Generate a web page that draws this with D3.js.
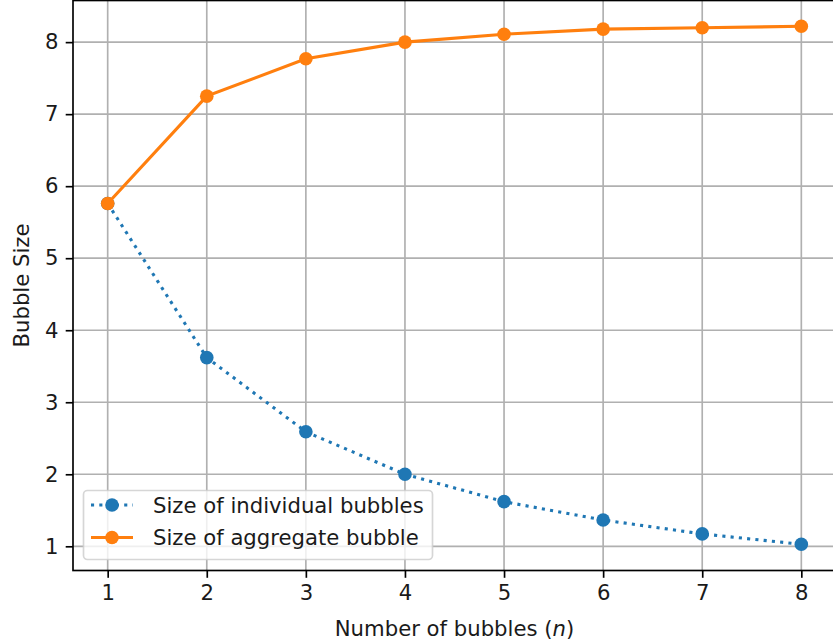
<!DOCTYPE html>
<html>
<head>
<meta charset="utf-8">
<script src="https://d3js.org/d3.v7.min.js"></script>
<style>
  body { margin: 0; background: #fff; }
  text { font-family: "DejaVu Sans", sans-serif; }
</style>
</head>
<body>
<div id="chart"></div>
<script>
// data
var bubbles = [1, 2, 3, 4, 5, 6, 7, 8];
var individualSize = [5.76, 3.62, 2.59, 2.00, 1.62, 1.365, 1.172, 1.028];
var aggregateSize = [5.76, 7.25, 7.77, 8.00, 8.11, 8.18, 8.20, 8.22];
var xTicks = [1, 2, 3, 4, 5, 6, 7, 8];
var yTicks = [1, 2, 3, 4, 5, 6, 7, 8];
var seriesNames = ["Size of individual bubbles", "Size of aggregate bubble"];

// set the dimensions of the graph
var W = 833, H = 644;
var plot = {left: 73, right: 836, top: 0.5, bottom: 570.5};
var fontSize = 21.2;
var markerR = 6.8;

var svg = d3.select("#chart")
  .append("svg")
    .attr("width", W)
    .attr("height", H);

var x = d3.scaleLinear()
    .domain([0.65, 8.35])
    .range([plot.left, plot.right]);

var y = d3.scaleLinear()
    .domain([0.664, 8.578])
    .range([plot.bottom, plot.top]);

// grid lines
svg.append("g")
  .selectAll("line")
  .data(xTicks)
  .enter().append("line")
    .attr("x1", function(d) { return x(d); })
    .attr("x2", function(d) { return x(d); })
    .attr("y1", plot.top)
    .attr("y2", plot.bottom)
    .attr("stroke", "#b0b0b0")
    .attr("stroke-width", 1.67);

svg.append("g")
  .selectAll("line")
  .data(yTicks)
  .enter().append("line")
    .attr("x1", plot.left)
    .attr("x2", plot.right)
    .attr("y1", function(d) { return y(d); })
    .attr("y2", function(d) { return y(d); })
    .attr("stroke", "#b0b0b0")
    .attr("stroke-width", 1.67);

// axes
var xAxis = svg.append("g")
    .attr("transform", "translate(0," + plot.bottom + ")")
    .call(d3.axisBottom(x).tickValues(xTicks).tickFormat(d3.format("d"))
      .tickSizeInner(7.3).tickSizeOuter(0).tickPadding(7.3));

var yAxis = svg.append("g")
    .attr("transform", "translate(" + plot.left + ",0)")
    .call(d3.axisLeft(y).tickValues(yTicks).tickFormat(d3.format("d"))
      .tickSizeInner(7.3).tickSizeOuter(0).tickPadding(7.3));

[xAxis, yAxis].forEach(function(a) {
  a.select(".domain").remove();
  a.selectAll(".tick line").attr("stroke", "#000").attr("stroke-width", 1.67);
  a.selectAll(".tick text")
    .attr("fill", "#1a1a1a")
    .style("font-size", fontSize + "px")
    .style("font-family", "'DejaVu Sans', sans-serif");
});

// spines
svg.append("rect")
    .attr("x", plot.left)
    .attr("y", plot.top)
    .attr("width", plot.right - plot.left)
    .attr("height", plot.bottom - plot.top)
    .attr("fill", "none")
    .attr("stroke", "#000")
    .attr("stroke-width", 1.67);

// lines
var line = function(vals) {
  return d3.line()
    .x(function(d, i) { return x(bubbles[i]); })
    .y(function(d) { return y(d); })(vals);
};

svg.append("path")
    .attr("d", line(individualSize))
    .attr("fill", "none")
    .attr("stroke", "#1f77b4")
    .attr("stroke-width", 3.1)
    .attr("stroke-dasharray", "3.1,5.2");

svg.append("g")
  .selectAll("circle")
  .data(individualSize)
  .enter().append("circle")
    .attr("cx", function(d, i) { return x(bubbles[i]); })
    .attr("cy", function(d) { return y(d); })
    .attr("r", markerR)
    .attr("fill", "#1f77b4");

svg.append("path")
    .attr("d", line(aggregateSize))
    .attr("fill", "none")
    .attr("stroke", "#ff7f0e")
    .attr("stroke-width", 3.1);

svg.append("g")
  .selectAll("circle")
  .data(aggregateSize)
  .enter().append("circle")
    .attr("cx", function(d, i) { return x(bubbles[i]); })
    .attr("cy", function(d) { return y(d); })
    .attr("r", markerR)
    .attr("fill", "#ff7f0e");

// axis labels
svg.append("text")
    .attr("x", x(4.5))
    .attr("y", 636)
    .attr("text-anchor", "middle")
    .style("font-size", fontSize + "px")
    .attr("fill", "#1a1a1a")
    .html("Number of bubbles (<tspan font-style='italic'>n</tspan>)");

svg.append("text")
    .attr("transform", "translate(29," + ((plot.top + plot.bottom) / 2) + ") rotate(-90)")
    .attr("text-anchor", "middle")
    .style("font-size", fontSize + "px")
    .attr("fill", "#1a1a1a")
    .text("Bubble Size");

// legend
var legend = svg.append("g");
legend.append("rect")
    .attr("x", 83.5)
    .attr("y", 490.5)
    .attr("width", 349)
    .attr("height", 69)
    .attr("rx", 4)
    .attr("fill", "#fff")
    .attr("fill-opacity", 0.8)
    .attr("stroke", "#cccccc")
    .attr("stroke-opacity", 0.8)
    .attr("stroke-width", 1.67);

var legendColors = ["#1f77b4", "#ff7f0e"];
var legendDash = ["3.1,5.2", null];
seriesNames.forEach(function(name, i) {
  var ly = 505 + i * 32.5;
  legend.append("line")
      .attr("x1", 91)
      .attr("x2", 133)
      .attr("y1", ly)
      .attr("y2", ly)
      .attr("stroke", legendColors[i])
      .attr("stroke-width", 3.1)
      .attr("stroke-dasharray", legendDash[i]);
  legend.append("circle")
      .attr("cx", 112)
      .attr("cy", ly)
      .attr("r", markerR)
      .attr("fill", legendColors[i]);
  legend.append("text")
      .attr("x", 153)
      .attr("y", ly)
      .attr("dy", "0.36em")
      .style("font-size", fontSize + "px")
      .attr("fill", "#1a1a1a")
      .text(name);
});
</script>
</body>
</html>
